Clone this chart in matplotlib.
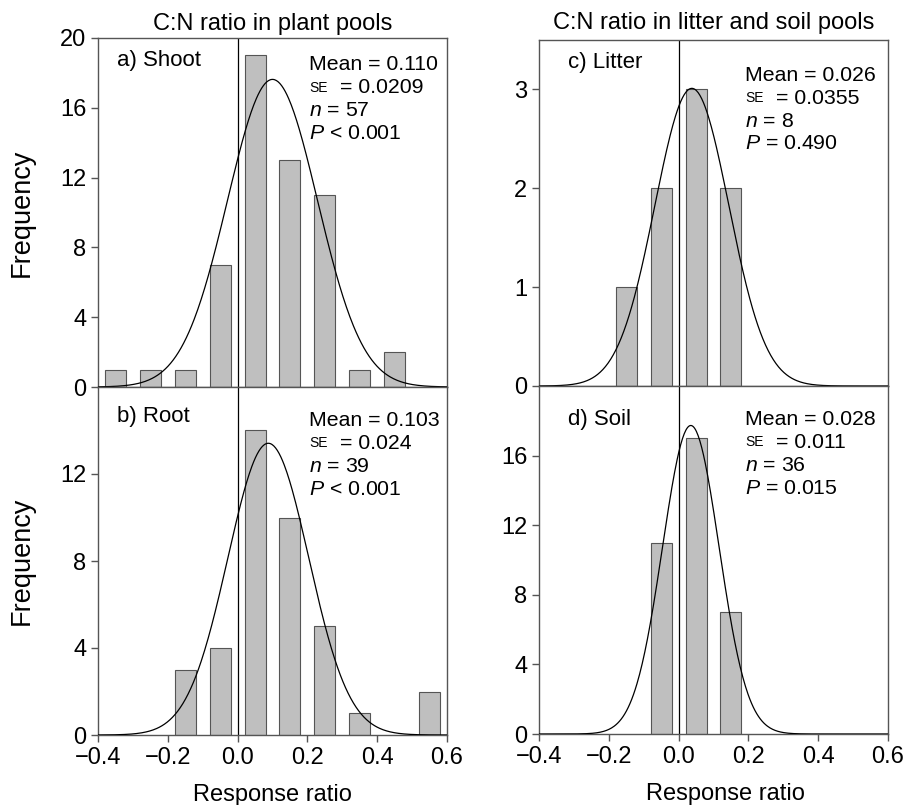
import numpy as np
import matplotlib
matplotlib.use('Agg')
import matplotlib.pyplot as plt

plt.rcParams['font.family'] = ['Liberation Sans', 'DejaVu Sans']
plt.rcParams['mathtext.fontset'] = 'custom'
plt.rcParams['mathtext.rm'] = 'Liberation Sans'
plt.rcParams['mathtext.it'] = 'Liberation Sans:italic'

# Bin centres (response ratio), width 0.1
shoot_x = [-0.35, -0.25, -0.15, -0.05, 0.05, 0.15, 0.25, 0.35, 0.45]
shoot_y = [1, 1, 1, 7, 19, 13, 11, 1, 2]
root_x = [-0.15, -0.05, 0.05, 0.15, 0.25, 0.35, 0.55]
root_y = [3, 4, 14, 10, 5, 1, 2]
litter_x = [-0.15, -0.05, 0.05, 0.15]
litter_y = [1, 2, 3, 2]
soil_x = [-0.05, 0.05, 0.15]
soil_y = [11, 17, 7]

# fitted normal curves: (centre, sd, n)
shoot_fit = (0.100, 0.129, 57)
root_fit = (0.088, 0.116, 39)
litter_fit = (0.038, 0.106, 8)
soil_fit = (0.035, 0.081, 36)

shoot_txt = ['Mean = 0.110', '= 0.0209', '$n$ = 57', '$P$ < 0.001']
root_txt = ['Mean = 0.103', '= 0.024', '$n$ = 39', '$P$ < 0.001']
litter_txt = ['Mean = 0.026', '= 0.0355', '$n$ = 8', '$P$ = 0.490']
soil_txt = ['Mean = 0.028', '= 0.011', '$n$ = 36', '$P$ = 0.015']

BIN_W = 0.1
SPINE = '#555555'

fig = plt.figure(figsize=(9.04, 8.05), dpi=100)
W = 349 / 904
ax_a = fig.add_axes([98 / 904, 1 - 387 / 805, W, 349 / 805])
ax_b = fig.add_axes([98 / 904, 1 - 735 / 805, W, 348 / 805])
ax_c = fig.add_axes([539 / 904, 1 - 386 / 805, W, 346 / 805])
ax_d = fig.add_axes([539 / 904, 1 - 734 / 805, W, 348 / 805])


def panel(ax, xs, ys, fit, label, lines, ylim, yticks, label_pos, txt_pos, bottom):
    ax.bar(xs, ys, width=0.06, color='#bfbfbf', edgecolor=SPINE, linewidth=0.8, zorder=2)
    mu, sd, n = fit
    xx = np.linspace(-0.4, 0.6, 400)
    yy = n * BIN_W / (sd * np.sqrt(2 * np.pi)) * np.exp(-(xx - mu) ** 2 / (2 * sd ** 2))
    ax.plot(xx, yy, color='black', lw=0.9, zorder=3)
    ax.axvline(0, color='black', lw=0.9, zorder=1)
    ax.set_xlim(-0.4, 0.6)
    ax.set_ylim(*ylim)
    ax.set_yticks(yticks)
    ax.set_xticks([-0.4, -0.2, 0.0, 0.2, 0.4, 0.6])
    for s in ax.spines.values():
        s.set_color(SPINE)
        s.set_linewidth(1.0)
    ax.tick_params(direction='out', length=5, width=1, color=SPINE, labelsize=17)
    if not bottom:
        ax.tick_params(axis='x', length=0, labelbottom=False)
    ax.text(label_pos[0], label_pos[1], label, transform=ax.transAxes,
            fontsize=16, va='top', ha='left')
    tx, ty = txt_pos
    step = 23 / 349
    ax.text(tx, ty, lines[0], transform=ax.transAxes, fontsize=15.3, va='top')
    ax.text(tx, ty - step - 0.006, 'SE', transform=ax.transAxes, fontsize=10, va='top')
    ax.text(tx + 0.088, ty - step, lines[1], transform=ax.transAxes, fontsize=15.3, va='top')
    ax.text(tx, ty - 2 * step, lines[2], transform=ax.transAxes, fontsize=15.3, va='top')
    ax.text(tx, ty - 3 * step, lines[3], transform=ax.transAxes, fontsize=15.3, va='top')


panel(ax_a, shoot_x, shoot_y, shoot_fit, 'a) Shoot', shoot_txt, (0, 20), [0, 4, 8, 12, 16, 20],
      (0.054, 0.965), (0.605, 0.95), False)
panel(ax_b, root_x, root_y, root_fit, 'b) Root', root_txt, (0, 16), [0, 4, 8, 12],
      (0.054, 0.945), (0.605, 0.93), True)
panel(ax_c, litter_x, litter_y, litter_fit, 'c) Litter', litter_txt, (0, 3.5), [0, 1, 2, 3],
      (0.083, 0.965), (0.59, 0.925), False)
panel(ax_d, soil_x, soil_y, soil_fit, 'd) Soil', soil_txt, (0, 20), [0, 4, 8, 12, 16],
      (0.083, 0.935), (0.59, 0.93), True)

ax_a.set_title('C:N ratio in plant pools', fontsize=17, pad=6)
ax_c.set_title('C:N ratio in litter and soil pools', fontsize=17, pad=8)
ax_a.set_ylabel('Frequency', fontsize=19.5, labelpad=18)
ax_b.set_ylabel('Frequency', fontsize=19.5, labelpad=18)
ax_b.set_xlabel('Response ratio', fontsize=17)
ax_d.set_xlabel('Response ratio', fontsize=17)
ax_b.xaxis.set_label_coords(0.5, -0.14)
ax_d.xaxis.set_label_coords(0.535, -0.14)

fig.savefig('out.png', dpi=100)
